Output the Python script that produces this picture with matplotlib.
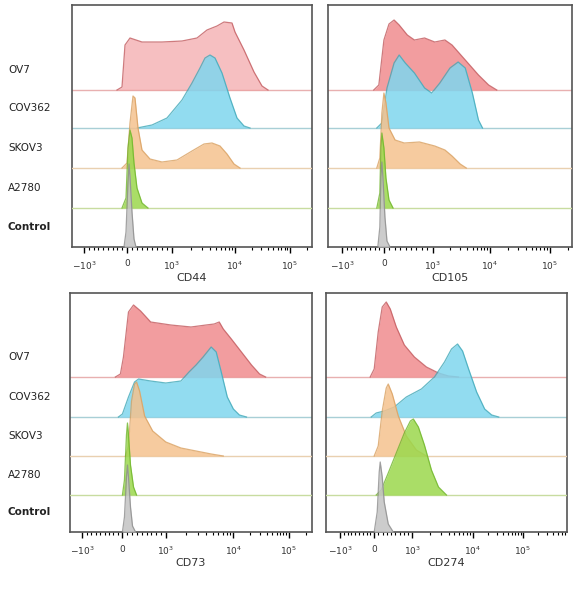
import numpy as np
import matplotlib.pyplot as plt

# sample names, top to bottom
samples = ['OV7', 'COV362', 'SKOV3', 'A2780', 'Control']
markers = ['CD44', 'CD105', 'CD73', 'CD274']

# tick positions (display units across the 0..240 axis) and labels
tick_pos = {
    'CD44':  [12, 55, 100, 163, 218],
    'CD105': [14, 55, 103, 159, 218],
    'CD73':  [12, 52, 95, 162, 217],
    'CD274': [14, 48, 86, 146, 196],
}
tick_labels = ['$-10^3$', '0', '$10^3$', '$10^4$', '$10^5$']

# histogram outlines: (x positions, heights in px)
curves = {
    'CD44': {
        'OV7':     ([45, 50, 53, 58, 70, 90, 110, 125, 135, 145, 152, 160, 163, 172, 182, 190, 196],
                    [0, 3, 45, 52, 48, 48, 49, 52, 60, 64, 68, 67, 58, 40, 18, 4, 0]),
        'COV362':  ([65, 80, 95, 110, 120, 128, 133, 138, 143, 150, 158, 165, 172, 178],
                    [0, 3, 10, 28, 45, 60, 70, 73, 70, 55, 30, 10, 2, 0]),
        'SKOV3':   ([50, 55, 58, 61, 63, 66, 70, 78, 90, 105, 120, 132, 140, 148, 155, 162, 168],
                    [0, 5, 45, 72, 70, 40, 18, 9, 6, 8, 17, 24, 25, 22, 14, 4, 0]),
        'A2780':   ([50, 54, 56, 58, 60, 62, 65, 70, 76],
                    [0, 10, 60, 78, 70, 45, 20, 5, 0]),
        'Control': ([52, 54, 56, 57, 58, 60, 62, 64],
                    [0, 15, 65, 83, 70, 35, 8, 0]),
    },
    'CD105': {
        'OV7':     ([45, 50, 55, 60, 65, 70, 78, 85, 95, 105, 115, 122, 135, 148, 158, 166],
                    [0, 5, 50, 66, 70, 65, 55, 50, 52, 48, 50, 45, 30, 15, 5, 0]),
        'COV362':  ([48, 53, 58, 65, 70, 76, 85, 95, 102, 110, 120, 128, 135, 142, 148, 152],
                    [0, 5, 40, 65, 73, 65, 55, 40, 35, 45, 60, 66, 60, 35, 8, 0]),
        'SKOV3':   ([48, 51, 53, 55, 57, 60, 66, 75, 90, 105, 115, 122, 130, 136],
                    [0, 10, 55, 75, 65, 40, 28, 25, 26, 22, 18, 12, 4, 0]),
        'A2780':   ([48, 51, 52, 53, 55, 57, 60, 64],
                    [0, 15, 60, 75, 60, 30, 8, 0]),
        'Control': ([49, 51, 52, 53, 54, 56, 58, 61],
                    [0, 20, 70, 85, 70, 30, 6, 0]),
    },
    'CD73': {
        'OV7':     ([45, 50, 53, 58, 63, 70, 80, 100, 120, 135, 143, 148, 152, 160, 170, 180, 188, 194],
                    [0, 3, 20, 65, 72, 66, 55, 52, 50, 52, 53, 55, 48, 38, 25, 12, 3, 0]),
        'COV362':  ([48, 52, 58, 64, 68, 80, 95, 110, 118, 125, 132, 140, 145, 150, 156, 162, 168, 175],
                    [0, 3, 20, 35, 38, 36, 34, 36, 45, 52, 60, 70, 65, 45, 20, 8, 2, 0]),
        'SKOV3':   ([55, 58, 61, 64, 66, 69, 74, 82, 95, 110, 125, 140, 152],
                    [0, 10, 55, 72, 74, 65, 40, 25, 14, 8, 5, 2, 0]),
        'A2780':   ([52, 54, 56, 57, 58, 60, 63, 66],
                    [0, 15, 60, 72, 60, 30, 8, 0]),
        'Control': ([52, 54, 56, 57, 58, 60, 62, 65],
                    [0, 15, 55, 67, 55, 25, 6, 0]),
    },
    'CD274': {
        'OV7':     ([44, 48, 52, 56, 60, 64, 70, 78, 88, 100, 112, 122, 132],
                    [0, 8, 45, 70, 75, 68, 50, 32, 20, 10, 4, 1, 0]),
        'COV362':  ([45, 50, 58, 68, 80, 95, 108, 118, 125, 131, 136, 142, 150, 158, 165, 172],
                    [0, 4, 6, 10, 20, 28, 40, 55, 68, 73, 66, 48, 25, 8, 2, 0]),
        'SKOV3':   ([48, 52, 56, 60, 62, 66, 72, 80, 90, 100],
                    [0, 10, 45, 68, 72, 62, 40, 20, 6, 0]),
        'A2780':   ([50, 55, 62, 70, 78, 84, 87, 92, 98, 105, 112, 120],
                    [0, 5, 22, 42, 62, 74, 76, 68, 50, 25, 8, 0]),
        'Control': ([48, 51, 53, 54, 56, 58, 62, 67],
                    [0, 20, 60, 70, 55, 30, 8, 0]),
    },
}

fills = {
    'OV7': '#f08c8e', 'COV362': '#7fd6ee', 'SKOV3': '#f5c28e',
    'A2780': '#9bd84c', 'Control': '#c4c4c4',
}
edges = {
    'OV7': '#c25a5e', 'COV362': '#3fa8b8', 'SKOV3': '#d9a060',
    'A2780': '#6fb52a', 'Control': '#8c8c8c',
}
base_lines = {
    'OV7': '#e8b0b0', 'COV362': '#a8cfd6', 'SKOV3': '#e9d0b0',
    'A2780': '#c8dca0', 'Control': '#cccccc',
}

W, H = 580, 590
# panel rectangles in pixels: left, top, right, bottom
boxes = {
    'CD44':  (72, 5, 312, 247),
    'CD105': (328, 5, 572, 247),
    'CD73':  (70, 293, 312, 532),
    'CD274': (326, 293, 567, 532),
}
baselines = {'top': [157, 119, 79, 39, 0], 'bottom': [155, 115, 76, 37, 0]}

fig = plt.figure(figsize=(W / 100, H / 100), dpi=100)

for m in markers:
    l, t, r, b = boxes[m]
    ax = fig.add_axes([l / W, 1 - b / H, (r - l) / W, (b - t) / H])
    ax.set_xlim(0, 240)
    ax.set_ylim(0, b - t)
    bl = baselines['top'] if t < 100 else baselines['bottom']
    for i, s in enumerate(samples):
        xs, hs = curves[m][s]
        xs = np.array(xs, float)
        ys = bl[i] + np.array(hs, float)
        alpha = 0.55 if (m == 'CD44' and s == 'OV7') else 0.85
        ax.fill_between(xs, bl[i], ys, color=fills[s], alpha=alpha, lw=0, zorder=2 + i)
        ax.plot(xs, ys, color=edges[s], lw=0.9, alpha=0.8, zorder=2 + i)
        if i < 4:
            ax.axhline(bl[i], color=base_lines[s], lw=1.0, zorder=1.5 + i)
    # ticks
    tp = tick_pos[m]
    ax.set_xticks(tp)
    ax.set_xticklabels(tick_labels, fontsize=6.5, color='#333333')
    minors = []
    dec = [(tp[2], tp[3]), (tp[3], tp[4]), (tp[4], tp[4] + (tp[4] - tp[3]))]
    for a, c in dec:
        for k in range(2, 10):
            v = a + np.log10(k) * (c - a)
            if v < 240:
                minors.append(v)
    minors += list(np.linspace(tp[0], tp[1], 10)[1:-1])
    minors += list(np.linspace(tp[1], tp[2], 10)[1:-1])
    ax.set_xticks(minors, minor=True)
    ax.tick_params(axis='x', which='major', length=4, width=1, pad=5)
    ax.tick_params(axis='x', which='minor', length=2, width=0.8)
    ax.set_yticks([])
    for sp in ax.spines.values():
        sp.set_color('#555555')
        sp.set_linewidth(1.2)
    ax.set_xlabel(m, fontsize=8, color='#333333', labelpad=1)
    # sample labels on the left panels
    if l < 100:
        for i, s in enumerate(samples):
            y_px = b - bl[i] - 20
            weight = 'bold' if s == 'Control' else 'normal'
            fig.text(8 / W, 1 - y_px / H, s, fontsize=7.5, va='center',
                     ha='left', color='#222222', fontweight=weight)

fig.savefig('out.png', dpi=100)
